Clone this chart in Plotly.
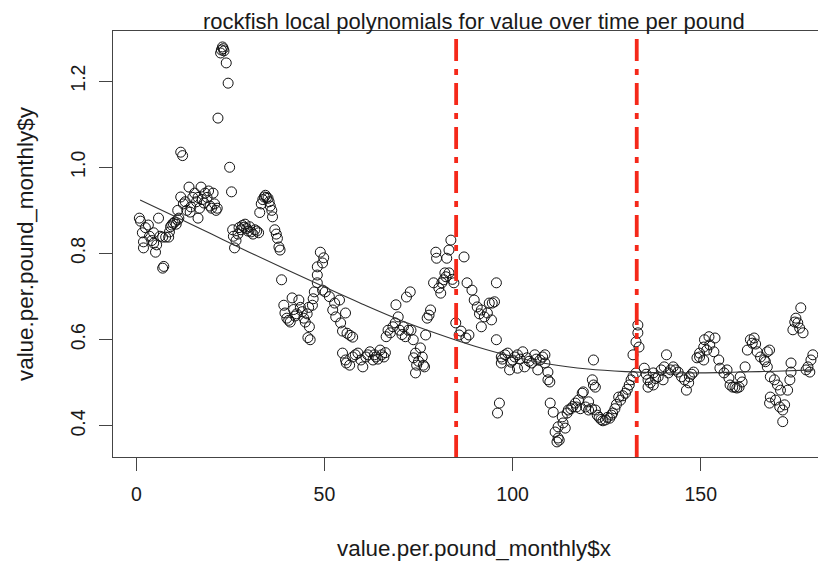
import plotly.graph_objects as go

# ---------------- data ----------------
x_vals = [
    0.8, 1.1, 1.6, 1.9, 1.9, 2.4, 3.2, 3.5, 4.1, 4.6, 4.6, 5.1, 5.4, 5.9, 6.3, 7.0, 7.0, 7.3, 7.8, 8.6, 8.8, 9.1, 9.4, 9.8, 10.2, 10.6, 11.0,
    11.8, 12.3, 11.0, 11.3, 11.8, 12.5, 13.0, 13.4, 14.0, 14.5, 14.3, 15.0, 15.5, 16.0, 16.4, 16.4, 16.8, 17.2, 17.5, 18.0, 18.3, 18.8, 19.2, 19.6, 20.0, 20.4, 20.8, 21.2, 21.5,
    21.7, 22.4, 22.6, 22.9, 23.1, 23.3, 23.9, 24.4, 24.8, 25.3,
    25.6, 25.8, 26.1, 26.5, 27.0, 27.3, 27.8, 28.2, 28.6, 28.9, 29.3, 29.7, 30.1, 30.5, 31.0, 31.5, 32.0, 32.5,
    32.8, 33.2, 33.6, 34.0, 34.3, 34.6, 35.0, 35.3, 35.6, 36.0, 36.2,
    36.8, 37.2, 37.5, 37.9, 38.2, 38.6,
    39.2, 39.5, 40.0, 40.5, 40.9, 41.4, 41.8, 42.2, 42.6, 43.2, 43.6, 44.1, 44.5, 44.9, 45.4, 45.6, 45.8, 46.0, 46.2, 46.8, 47.0,
    47.3, 48.1, 48.1, 48.1, 48.9, 49.5, 49.8, 49.5,
    50.2, 51.3, 52.2, 52.7, 53.0, 54.0, 54.3, 54.8, 55.6, 56.0, 56.8, 57.5,
    54.8, 55.6, 55.8, 56.7, 57.5, 58.2, 58.9, 59.7, 60.2, 61.0, 61.5, 62.1, 62.9, 63.3, 63.7, 64.2, 64.8, 65.2, 65.8, 66.2,
    66.4, 66.9, 67.5, 68.2, 68.8, 69.0, 69.6, 70.0, 70.6, 71.0, 71.5, 71.8, 72.3, 72.8, 73.0, 73.6,
    73.7, 74.2, 74.2, 74.5, 75.0, 75.5, 76.0, 76.3, 76.6, 76.9,
    77.3, 77.8, 78.2, 79.0, 79.6, 79.8, 80.4, 80.9, 81.2, 81.7, 82.0, 82.3, 82.5, 83.1, 83.1, 83.6, 84.0, 84.4, 84.9,
    85.8, 86.3, 87.1, 87.6, 87.9, 88.4, 89.2, 89.8, 90.6, 91.2, 91.7, 91.7, 92.5, 93.3, 93.8, 94.4, 94.6, 95.2, 95.7, 95.7, 96.0, 96.5,
    97.0, 97.0, 97.3, 98.0, 98.7, 99.2, 99.6, 100.0, 100.6, 101.3, 101.3, 102.0, 102.7, 103.2, 103.8, 104.4, 105.1, 105.9, 106.3, 106.7, 107.3, 108.0, 108.6, 108.6, 109.4, 109.4, 109.9,
    110.0, 110.8, 111.3, 111.8, 112.1, 112.1, 112.4, 113.2, 113.4, 114.0, 114.5, 114.8, 115.5, 116.0, 116.7, 117.0, 117.5, 118.0, 118.5, 118.8, 119.4, 120.2, 120.2, 121.0, 121.2, 121.5, 121.5, 122.0, 122.0,
    122.5, 123.0, 123.5, 124.0, 124.7, 125.2, 125.8, 126.3, 126.6, 127.2, 127.6, 128.2, 128.7, 129.3, 130.0, 130.5, 131.0, 131.5, 132.0, 132.8,
    132.0, 132.8, 133.3, 133.3, 133.6,
    135.0, 135.5, 136.0, 136.0, 136.6, 137.4, 137.4, 138.0, 138.7, 139.5, 140.0, 140.3, 140.9, 141.4, 142.0, 142.7, 143.3, 144.0, 144.9, 145.7, 146.2, 146.8, 147.0, 147.6, 148.1,
    149.0, 149.7, 149.7, 150.8, 150.8, 151.0, 151.6, 152.2, 152.4, 153.5, 153.8, 154.8, 155.1, 156.2, 157.0, 157.5, 157.8, 158.5, 159.1, 159.6, 160.2, 160.5, 161.0,
    161.8, 162.4, 163.2, 163.7, 164.2, 164.6, 165.0, 165.9, 166.9, 167.2, 167.7, 167.7, 168.3,
    168.5, 168.5, 168.3, 169.6, 169.9, 170.4, 171.0, 171.2, 171.8, 171.8, 172.3, 173.1, 173.7, 174.0, 174.0,
    174.5, 175.0, 175.3, 175.8, 176.3, 176.6, 177.2, 178.0, 178.5, 179.0, 179.3, 179.8,
]
y_vals = [
    0.882, 0.875, 0.848, 0.827, 0.813, 0.860, 0.866, 0.840, 0.830, 0.824, 0.848, 0.803, 0.820, 0.882, 0.840, 0.838, 0.766, 0.770, 0.838, 0.838, 0.850, 0.862, 0.866, 0.870, 0.873, 0.868, 0.878,
    1.035, 1.027, 0.900, 0.882, 0.931, 0.915, 0.920, 0.900, 0.954, 0.908, 0.896, 0.930, 0.940, 0.920, 0.930, 0.882, 0.905, 0.954, 0.925, 0.917, 0.940, 0.930, 0.945, 0.910, 0.905, 0.940, 0.915, 0.900, 0.905,
    1.114, 1.265, 1.272, 1.279, 1.275, 1.270, 1.242, 1.195, 1.000, 0.943,
    0.855, 0.840, 0.813, 0.830, 0.845, 0.860, 0.855, 0.865, 0.861, 0.868, 0.858, 0.852, 0.862, 0.850, 0.845, 0.855, 0.852, 0.848,
    0.895, 0.915, 0.925, 0.931, 0.935, 0.930, 0.928, 0.920, 0.910, 0.900, 0.885,
    0.855, 0.845, 0.835, 0.815, 0.808, 0.739,
    0.680, 0.662, 0.650, 0.645, 0.641, 0.697, 0.670, 0.655, 0.660, 0.692, 0.675, 0.665, 0.650, 0.641, 0.660, 0.605, 0.675, 0.630, 0.600, 0.680, 0.695,
    0.711, 0.732, 0.750, 0.769, 0.803, 0.778, 0.790, 0.715,
    0.711, 0.700, 0.669, 0.685, 0.653, 0.692, 0.639, 0.620, 0.662, 0.615, 0.610, 0.606,
    0.569, 0.553, 0.546, 0.541, 0.560, 0.565, 0.569, 0.553, 0.537, 0.560, 0.565, 0.572, 0.553, 0.565, 0.560, 0.555, 0.576, 0.565, 0.560, 0.570,
    0.607, 0.622, 0.616, 0.630, 0.639, 0.681, 0.653, 0.622, 0.612, 0.630, 0.607, 0.699, 0.622, 0.711, 0.622, 0.600,
    0.558, 0.569, 0.523, 0.541, 0.550, 0.581, 0.560, 0.541, 0.537, 0.611,
    0.650, 0.657, 0.669, 0.732, 0.803, 0.789, 0.720, 0.708, 0.732, 0.739, 0.755, 0.746, 0.789, 0.755, 0.808, 0.831, 0.740, 0.732, 0.639,
    0.611, 0.620, 0.792, 0.604, 0.732, 0.611, 0.715, 0.692, 0.676, 0.660, 0.669, 0.630, 0.653, 0.662, 0.685, 0.646, 0.685, 0.688, 0.732, 0.600, 0.430, 0.453,
    0.560, 0.546, 0.555, 0.565, 0.569, 0.530, 0.548, 0.553, 0.560, 0.565, 0.534, 0.555, 0.572, 0.537, 0.558, 0.550, 0.546, 0.565, 0.555, 0.530, 0.553, 0.560, 0.565, 0.546, 0.525, 0.507, 0.502,
    0.453, 0.432, 0.386, 0.363, 0.372, 0.398, 0.367, 0.421, 0.407, 0.395, 0.430, 0.437, 0.440, 0.445, 0.453, 0.444, 0.460, 0.440, 0.476, 0.479, 0.444, 0.456, 0.437, 0.440, 0.507, 0.495, 0.553, 0.437, 0.490,
    0.425, 0.420, 0.415, 0.412, 0.414, 0.420, 0.418, 0.425, 0.430, 0.440, 0.450, 0.467, 0.460, 0.470, 0.476, 0.485, 0.495, 0.507, 0.515, 0.523,
    0.565, 0.595, 0.616, 0.634, 0.583,
    0.534, 0.520, 0.507, 0.490, 0.500, 0.523, 0.495, 0.510, 0.514, 0.530, 0.507, 0.537, 0.565, 0.523, 0.530, 0.537, 0.530, 0.525, 0.514, 0.507, 0.483, 0.500, 0.514, 0.520, 0.525,
    0.558, 0.569, 0.560, 0.583, 0.553, 0.600, 0.576, 0.607, 0.588, 0.572, 0.604, 0.553, 0.534, 0.523, 0.530, 0.511, 0.495, 0.490, 0.490, 0.488, 0.490, 0.514, 0.502,
    0.537, 0.576, 0.600, 0.592, 0.604, 0.590, 0.572, 0.560, 0.553, 0.549, 0.572, 0.537, 0.576,
    0.514, 0.467, 0.453, 0.507, 0.460, 0.495, 0.444, 0.483, 0.437, 0.410, 0.449, 0.483, 0.507, 0.525, 0.546,
    0.623, 0.641, 0.650, 0.639, 0.627, 0.674, 0.616, 0.530, 0.537, 0.525, 0.553, 0.565,
]

# local polynomial fit
fit_x = [1, 10, 20, 30, 40, 50, 60, 70, 80, 90, 100, 110, 120, 130, 140, 150, 160, 170, 180]
fit_y = [0.924, 0.887, 0.845, 0.803, 0.762, 0.722, 0.683, 0.646, 0.614, 0.585, 0.561,
         0.543, 0.532, 0.526, 0.523, 0.523, 0.525, 0.527, 0.530]

cut_points = [85, 133]

x_ticks = [0, 50, 100, 150]
y_ticks = [0.4, 0.6, 0.8, 1.0, 1.2]
y_tick_text = ["0.4", "0.6", "0.8", "1.0", "1.2"]

title_text = "rockfish local polynomials for value over time per pound"
x_title = "value.per.pound_monthly$x"
y_title = "value.per.pound_monthly$y"

# ---------------- figure ----------------
# the page body has an 8px margin, so the figure starts at (8, 8) in the window
OFF = 8
W, H = 826 - OFF, 569 - OFF
ML, MT = 113 - OFF, 31 - OFF
MB = H - (457 - OFF)
MR = 0
PW, PH = W - ML - MR, H - MT - MB

FONT = "Liberation Sans, Arial, Helvetica, sans-serif"
TXT = "#1a1a1a"
AX = "#444444"

fig = go.Figure()
fig.add_trace(go.Scatter(
    x=x_vals, y=y_vals, mode="markers",
    marker=dict(symbol="circle-open", size=10, color="#111111", line=dict(width=1, color="#111111")),
    showlegend=False, hoverinfo="skip"))
fig.add_trace(go.Scatter(
    x=fit_x, y=fit_y, mode="lines", line=dict(color="#333333", width=1.1, shape="spline"),
    showlegend=False, hoverinfo="skip"))

for c in cut_points:
    fig.add_vline(x=c, line=dict(color="rgb(245,40,25)", width=3.8, dash="22px,8px,6px,8px"))

def px_x(p):
    return (p - OFF - ML) / PW

def px_y(p):
    return (MT + PH - (p - OFF)) / PH

fig.update_layout(
    width=W, height=H,
    margin=dict(l=ML, r=MR, t=MT, b=MB, pad=0),
    paper_bgcolor="white", plot_bgcolor="white",
    font=dict(family=FONT, color=TXT, size=19),
    xaxis=dict(range=[-6.2, 183.3], tickvals=x_ticks, ticks="outside", ticklen=13,
               tickwidth=1, tickcolor=AX, showline=True, linecolor=AX, linewidth=1,
               mirror=True, showgrid=False, zeroline=False,
               tickfont=dict(size=19.5, family=FONT, color=TXT), ticklabelstandoff=7),
    yaxis=dict(range=[0.328, 1.316], tickvals=y_ticks, ticktext=y_tick_text, tickangle=-90,
               ticks="outside", ticklen=13, tickwidth=1, tickcolor=AX, showline=True,
               linecolor=AX, linewidth=1, mirror=False, showgrid=False, zeroline=False,
               tickfont=dict(size=19.5, family=FONT, color=TXT), ticklabelstandoff=6),
    annotations=[
        dict(text=title_text, xref="paper", yref="paper", x=px_x(474), y=px_y(8),
             xanchor="center", yanchor="top", showarrow=False, borderpad=0,
             font=dict(size=22, family=FONT, color=TXT)),
        dict(text=x_title, xref="paper", yref="paper", x=px_x(474), y=px_y(548),
             xanchor="center", yanchor="middle", showarrow=False,
             font=dict(size=22.4, family=FONT, color=TXT)),
        dict(text=y_title, xref="paper", yref="paper", x=px_x(25), y=px_y(244),
             xanchor="center", yanchor="middle", showarrow=False, textangle=-90,
             font=dict(size=22.4, family=FONT, color=TXT)),
    ],
)

fig.write_html("out.html")
